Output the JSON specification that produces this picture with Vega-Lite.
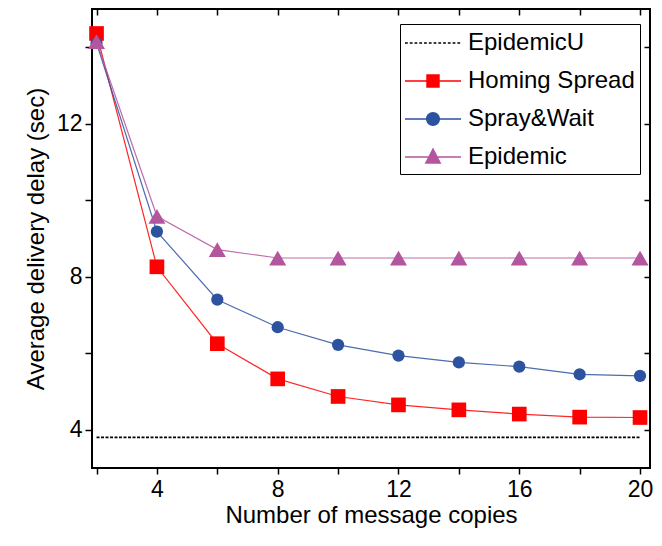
{
  "$schema": "https://vega.github.io/schema/vega-lite/v6.json",
  "width": 558,
  "height": 459,
  "autosize": "none",
  "padding": {"left": 92, "top": 9, "right": 12, "bottom": 78},
  "background": "white",
  "datasets": {
    "main": [
      {"x": 2, "y": 14.36, "series": "Homing Spread"},
      {"x": 4, "y": 8.26, "series": "Homing Spread"},
      {"x": 6, "y": 6.25, "series": "Homing Spread"},
      {"x": 8, "y": 5.33, "series": "Homing Spread"},
      {"x": 10, "y": 4.87, "series": "Homing Spread"},
      {"x": 12, "y": 4.65, "series": "Homing Spread"},
      {"x": 14, "y": 4.52, "series": "Homing Spread"},
      {"x": 16, "y": 4.41, "series": "Homing Spread"},
      {"x": 18, "y": 4.33, "series": "Homing Spread"},
      {"x": 20, "y": 4.32, "series": "Homing Spread"},
      {"x": 2, "y": 14.11, "series": "Spray&Wait"},
      {"x": 4, "y": 9.18, "series": "Spray&Wait"},
      {"x": 6, "y": 7.40, "series": "Spray&Wait"},
      {"x": 8, "y": 6.68, "series": "Spray&Wait"},
      {"x": 10, "y": 6.22, "series": "Spray&Wait"},
      {"x": 12, "y": 5.94, "series": "Spray&Wait"},
      {"x": 14, "y": 5.76, "series": "Spray&Wait"},
      {"x": 16, "y": 5.65, "series": "Spray&Wait"},
      {"x": 18, "y": 5.45, "series": "Spray&Wait"},
      {"x": 20, "y": 5.41, "series": "Spray&Wait"},
      {"x": 2, "y": 14.15, "series": "Epidemic"},
      {"x": 4, "y": 9.58, "series": "Epidemic"},
      {"x": 6, "y": 8.71, "series": "Epidemic"},
      {"x": 8, "y": 8.49, "series": "Epidemic"},
      {"x": 10, "y": 8.49, "series": "Epidemic"},
      {"x": 12, "y": 8.49, "series": "Epidemic"},
      {"x": 14, "y": 8.49, "series": "Epidemic"},
      {"x": 16, "y": 8.49, "series": "Epidemic"},
      {"x": 18, "y": 8.49, "series": "Epidemic"},
      {"x": 20, "y": 8.49, "series": "Epidemic"},
      {"x": 2, "y": 3.8, "series": "EpidemicU"},
      {"x": 20, "y": 3.8, "series": "EpidemicU"}
    ]
  },
  "config": {
    "font": "Liberation Sans",
    "view": {"stroke": "black", "strokeWidth": 2},
    "axis": {
      "domain": false,
      "grid": false,
      "tickColor": "black",
      "tickWidth": 1.5,
      "labelColor": "black",
      "labelFontSize": 23,
      "labelFont": "Liberation Sans",
      "titleFont": "Liberation Sans",
      "titleFontSize": 24,
      "titleFontWeight": "normal",
      "titleColor": "black"
    },
    "legend": {
      "orient": "none",
      "legendX": 308,
      "legendY": 15,
      "title": null,
      "strokeColor": "black",
      "fillColor": "white",
      "padding": 5,
      "labelFontSize": 24,
      "labelFont": "Liberation Sans",
      "labelColor": "black",
      "labelOffset": 21,
      "labelLimit": 400,
      "symbolSize": 784,
      "symbolOffset": 14,
      "symbolStrokeWidth": 0,
      "symbolOpacity": 1,
      "rowPadding": 12
    }
  },
  "layer": [
    {
      "data": {"name": "main"},
      "transform": [{"filter": "datum.series != 'EpidemicU'"}],
      "mark": {"type": "line", "strokeWidth": 1.2, "opacity": 0.85},
      "encoding": {
        "x": {"field": "x", "type": "quantitative", "scale": {"domain": [1.85, 20.33], "nice": false, "zero": false},
          "axis": {"values": [2, 4, 6, 8, 10, 12, 14, 16, 18, 20], "labelExpr": "datum.value % 4 == 0 ? datum.label : ''", "tickSize": 6, "labelPadding": 4, "title": "Number of message copies", "titlePadding": 2, "labelFlush": false, "labelOverlap": false}},
        "y": {"field": "y", "type": "quantitative", "scale": {"domain": [3, 15], "nice": false, "zero": false},
          "axis": {"values": [4, 6, 8, 10, 12, 14], "labelExpr": "datum.value % 4 == 0 ? datum.label : ''", "tickSize": 7, "labelPadding": 3, "title": "Average delivery delay (sec)", "titlePadding": 8, "labelOverlap": false}},
        "color": {"field": "series", "type": "nominal", "scale": {"domain": ["EpidemicU", "Homing Spread", "Spray&Wait", "Epidemic"], "range": ["#000000", "#FF0000", "#2C52A0", "#B4559F"]}, "legend": null},
        "detail": {"field": "series"}
      }
    },
    {
      "data": {"name": "main"},
      "transform": [{"filter": "datum.series == 'EpidemicU'"}],
      "mark": {"type": "line", "strokeWidth": 1.6, "strokeDash": [3, 1.5]},
      "encoding": {
        "x": {"field": "x", "type": "quantitative", "axis": null},
        "y": {"field": "y", "type": "quantitative", "axis": null},
        "color": {"field": "series", "type": "nominal", "legend": null}
      }
    },
    {
      "data": {"name": "main"},
      "transform": [{"filter": "datum.series == 'Homing Spread'"}],
      "mark": {"type": "point", "shape": "square", "filled": true, "size": 215, "opacity": 1},
      "encoding": {
        "x": {"field": "x", "type": "quantitative", "axis": null},
        "y": {"field": "y", "type": "quantitative", "axis": null},
        "color": {"field": "series", "type": "nominal", "legend": null}
      }
    },
    {
      "data": {"name": "main"},
      "transform": [{"filter": "datum.series == 'Spray&Wait'"}],
      "mark": {"type": "point", "shape": "circle", "filled": true, "size": 150, "opacity": 1},
      "encoding": {
        "x": {"field": "x", "type": "quantitative", "axis": null},
        "y": {"field": "y", "type": "quantitative", "axis": null},
        "color": {"field": "series", "type": "nominal", "legend": null}
      }
    },
    {
      "data": {"name": "main"},
      "transform": [{"filter": "datum.series == 'Epidemic'"}],
      "mark": {"type": "point", "shape": "triangle-up", "filled": true, "size": 290, "opacity": 1},
      "encoding": {
        "x": {"field": "x", "type": "quantitative", "axis": null},
        "y": {"field": "y", "type": "quantitative", "axis": null},
        "color": {"field": "series", "type": "nominal", "legend": null}
      }
    },
    {
      "data": {"name": "main"},
      "mark": {"type": "point", "filled": true, "opacity": 0},
      "encoding": {
        "x": {"field": "x", "type": "quantitative", "axis": null},
        "y": {"field": "y", "type": "quantitative", "axis": null},
        "color": {"field": "series", "type": "nominal", "legend": {"symbolOpacity": 1}},
        "shape": {"field": "series", "type": "nominal", "legend": {"symbolOpacity": 1}, "scale": {"domain": ["EpidemicU", "Homing Spread", "Spray&Wait", "Epidemic"], "range": [
          "M-2,-0.06h0.2v0.12h-0.2zM-1.66,-0.06h0.2v0.12h-0.2zM-1.32,-0.06h0.2v0.12h-0.2zM-0.98,-0.06h0.2v0.12h-0.2zM-0.64,-0.06h0.2v0.12h-0.2zM-0.3,-0.06h0.2v0.12h-0.2zM0.04,-0.06h0.2v0.12h-0.2zM0.38,-0.06h0.2v0.12h-0.2zM0.72,-0.06h0.2v0.12h-0.2zM1.06,-0.06h0.2v0.12h-0.2zM1.4,-0.06h0.2v0.12h-0.2zM1.74,-0.06h0.2v0.12h-0.2z",
          "M-2,-0.05L2,-0.05L2,0.05L-2,0.05ZM-0.48,-0.48L0.48,-0.48L0.48,0.48L-0.48,0.48Z",
          "M-2,-0.05L2,-0.05L2,0.05L-2,0.05ZM-0.5,0A0.5,0.5,0,1,1,0.5,0A0.5,0.5,0,1,1,-0.5,0Z",
          "M-2,-0.05L2,-0.05L2,0.05L-2,0.05ZM0,-0.68L0.6,0.48L-0.6,0.48Z"
        ]}}
      }
    },
    {
      "data": {"name": "main"},
      "mark": {"type": "point", "opacity": 0},
      "encoding": {
        "x": {"field": "x", "type": "quantitative",
          "axis": {"orient": "top", "values": [2, 4, 6, 8, 10, 12, 14, 16, 18, 20], "labels": false, "tickSize": -6, "title": null}},
        "y": {"field": "y", "type": "quantitative",
          "axis": {"orient": "right", "values": [4, 6, 8, 10, 12, 14], "labels": false, "tickSize": -6, "title": null}}
      }
    }
  ],
  "resolve": {"axis": {"x": "independent", "y": "independent"}, "legend": {"color": "independent", "shape": "independent"}}
}
